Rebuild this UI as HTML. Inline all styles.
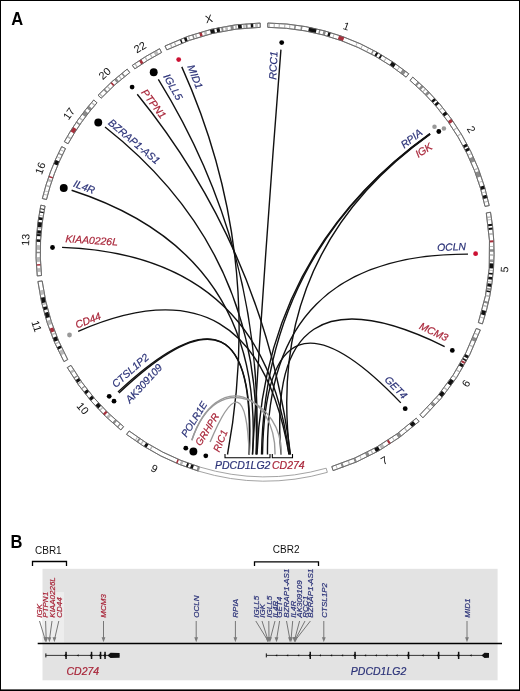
<!DOCTYPE html>
<html><head><meta charset="utf-8"><style>
html,body{margin:0;padding:0;background:#fff;}
svg{display:block;font-family:"Liberation Sans",sans-serif;will-change:transform;}
</style></head><body>
<svg width="520" height="691" viewBox="0 0 520 691">
<rect x="0" y="0" width="520" height="691" fill="#fff"/>
<path d="M267.80,23.02 A229.0,229.0 0 0 1 408.80,73.78 L406.10,77.13 A224.7,224.7 0 0 0 267.75,27.32 Z" fill="#fff" stroke="#666" stroke-width="0.8"/>
<path d="M268.67,23.03 A229.0,229.0 0 0 1 269.91,23.05 L269.82,27.35 A224.7,224.7 0 0 0 268.60,27.33 Z" fill="#b9b9b9"/>
<path d="M273.72,23.17 A229.0,229.0 0 0 1 274.94,23.22 L274.75,27.51 A224.7,224.7 0 0 0 273.56,27.46 Z" fill="#b9b9b9"/>
<path d="M278.78,23.41 A229.0,229.0 0 0 1 279.97,23.49 L279.69,27.78 A224.7,224.7 0 0 0 278.52,27.71 Z" fill="#b9b9b9"/>
<path d="M284.34,23.82 A229.0,229.0 0 0 1 285.51,23.92 L285.12,28.20 A224.7,224.7 0 0 0 283.98,28.10 Z" fill="#b9b9b9"/>
<path d="M289.40,24.30 A229.0,229.0 0 0 1 290.54,24.43 L290.06,28.70 A224.7,224.7 0 0 0 288.94,28.58 Z" fill="#b9b9b9"/>
<path d="M294.45,24.90 A229.0,229.0 0 0 1 296.08,25.12 L295.49,29.38 A224.7,224.7 0 0 0 293.90,29.17 Z" fill="#8a8a8a"/>
<path d="M301.03,25.85 A229.0,229.0 0 0 1 302.62,26.11 L301.91,30.35 A224.7,224.7 0 0 0 300.35,30.10 Z" fill="#8a8a8a"/>
<path d="M309.02,27.27 A229.0,229.0 0 0 1 316.71,28.92 L315.74,33.10 A224.7,224.7 0 0 0 308.20,31.49 Z" fill="#111"/>
<path d="M319.23,29.51 A229.0,229.0 0 0 1 320.63,29.86 L319.59,34.03 A224.7,224.7 0 0 0 318.21,33.69 Z" fill="#8a8a8a"/>
<path d="M323.58,30.62 A229.0,229.0 0 0 1 325.97,31.26 L324.82,35.41 A224.7,224.7 0 0 0 322.48,34.78 Z" fill="#8a8a8a"/>
<path d="M328.43,31.96 A229.0,229.0 0 0 1 330.80,32.66 L329.56,36.78 A224.7,224.7 0 0 0 327.24,36.09 Z" fill="#111"/>
<path d="M333.75,33.56 A229.0,229.0 0 0 1 334.66,33.85 L333.35,37.95 A224.7,224.7 0 0 0 332.46,37.67 Z" fill="#b9b9b9"/>
<path d="M339.15,35.34 A229.0,229.0 0 0 1 344.39,37.20 L342.90,41.23 A224.7,224.7 0 0 0 337.76,39.41 Z" fill="#a8303c"/>
<path d="M356.85,42.23 A229.0,229.0 0 0 1 357.76,42.63 L356.02,46.56 A224.7,224.7 0 0 0 355.13,46.17 Z" fill="#b9b9b9"/>
<path d="M362.15,44.63 A229.0,229.0 0 0 1 363.06,45.06 L361.22,48.94 A224.7,224.7 0 0 0 360.32,48.52 Z" fill="#b9b9b9"/>
<path d="M368.20,47.57 A229.0,229.0 0 0 1 369.11,48.03 L367.15,51.86 A224.7,224.7 0 0 0 366.26,51.41 Z" fill="#b9b9b9"/>
<path d="M372.82,49.97 A229.0,229.0 0 0 1 374.07,50.64 L372.02,54.43 A224.7,224.7 0 0 0 370.80,53.76 Z" fill="#8a8a8a"/>
<path d="M376.36,51.90 A229.0,229.0 0 0 1 378.30,52.99 L376.17,56.73 A224.7,224.7 0 0 0 374.27,55.66 Z" fill="#111"/>
<path d="M380.71,54.38 A229.0,229.0 0 0 1 382.33,55.34 L380.12,59.03 A224.7,224.7 0 0 0 378.54,58.09 Z" fill="#111"/>
<path d="M385.86,57.49 A229.0,229.0 0 0 1 386.76,58.05 L384.48,61.70 A224.7,224.7 0 0 0 383.59,61.14 Z" fill="#b9b9b9"/>
<path d="M392.04,61.47 A229.0,229.0 0 0 1 395.92,64.11 L393.46,67.64 A224.7,224.7 0 0 0 389.65,65.05 Z" fill="#111"/>
<path d="M399.22,66.46 A229.0,229.0 0 0 1 400.13,67.12 L397.59,70.59 A224.7,224.7 0 0 0 396.70,69.94 Z" fill="#b9b9b9"/>
<path d="M402.86,69.14 A229.0,229.0 0 0 1 406.08,71.62 L403.43,75.01 A224.7,224.7 0 0 0 400.27,72.58 Z" fill="#8a8a8a"/>
<path d="M267.80,23.02 A229.0,229.0 0 0 1 408.80,73.78 L406.10,77.13 A224.7,224.7 0 0 0 267.75,27.32 Z" fill="none" stroke="#666" stroke-width="0.8"/>
<path d="M412.81,77.09 A229.0,229.0 0 0 1 489.24,205.56 L485.03,206.43 A224.7,224.7 0 0 0 410.03,80.38 Z" fill="#fff" stroke="#666" stroke-width="0.8"/>
<path d="M417.91,81.53 A229.0,229.0 0 0 1 419.53,83.00 L416.63,86.17 A224.7,224.7 0 0 0 415.04,84.74 Z" fill="#8a8a8a"/>
<path d="M421.75,85.06 A229.0,229.0 0 0 1 423.63,86.84 L420.65,89.94 A224.7,224.7 0 0 0 418.81,88.19 Z" fill="#8a8a8a"/>
<path d="M425.21,88.37 A229.0,229.0 0 0 1 426.13,89.28 L423.10,92.33 A224.7,224.7 0 0 0 422.20,91.44 Z" fill="#b9b9b9"/>
<path d="M427.94,91.10 A229.0,229.0 0 0 1 429.91,93.11 L426.81,96.10 A224.7,224.7 0 0 0 424.88,94.12 Z" fill="#8a8a8a"/>
<path d="M434.43,97.94 A229.0,229.0 0 0 1 436.18,99.89 L432.97,102.74 A224.7,224.7 0 0 0 431.25,100.83 Z" fill="#111"/>
<path d="M437.57,101.46 A229.0,229.0 0 0 1 439.26,103.43 L435.99,106.22 A224.7,224.7 0 0 0 434.33,104.29 Z" fill="#111"/>
<path d="M442.27,107.03 A229.0,229.0 0 0 1 443.01,107.94 L439.67,110.65 A224.7,224.7 0 0 0 438.94,109.76 Z" fill="#b9b9b9"/>
<path d="M445.70,111.32 A229.0,229.0 0 0 1 447.70,113.94 L444.27,116.53 A224.7,224.7 0 0 0 442.30,113.97 Z" fill="#111"/>
<path d="M451.33,118.87 A229.0,229.0 0 0 1 453.13,121.43 L449.59,123.88 A224.7,224.7 0 0 0 447.83,121.37 Z" fill="#a8303c"/>
<path d="M457.01,127.21 A229.0,229.0 0 0 1 457.60,128.12 L453.98,130.44 A224.7,224.7 0 0 0 453.41,129.55 Z" fill="#b9b9b9"/>
<path d="M460.81,133.26 A229.0,229.0 0 0 1 461.36,134.17 L457.67,136.38 A224.7,224.7 0 0 0 457.14,135.49 Z" fill="#b9b9b9"/>
<path d="M466.68,143.53 A229.0,229.0 0 0 1 467.99,146.00 L464.18,147.99 A224.7,224.7 0 0 0 462.89,145.57 Z" fill="#111"/>
<path d="M468.74,147.45 A229.0,229.0 0 0 1 470.05,150.04 L466.20,151.96 A224.7,224.7 0 0 0 464.92,149.42 Z" fill="#111"/>
<path d="M471.46,152.93 A229.0,229.0 0 0 1 471.90,153.84 L468.01,155.69 A224.7,224.7 0 0 0 467.59,154.79 Z" fill="#b9b9b9"/>
<path d="M473.19,156.61 A229.0,229.0 0 0 1 475.21,161.16 L471.27,162.87 A224.7,224.7 0 0 0 469.28,158.40 Z" fill="#8a8a8a"/>
<path d="M477.95,167.79 A229.0,229.0 0 0 1 478.45,169.05 L474.44,170.61 A224.7,224.7 0 0 0 473.95,169.37 Z" fill="#b9b9b9"/>
<path d="M479.20,171.00 A229.0,229.0 0 0 1 481.14,176.33 L477.08,177.75 A224.7,224.7 0 0 0 475.17,172.52 Z" fill="#8a8a8a"/>
<path d="M482.61,180.67 A229.0,229.0 0 0 1 482.91,181.59 L478.82,182.92 A224.7,224.7 0 0 0 478.52,182.01 Z" fill="#b9b9b9"/>
<path d="M484.13,185.50 A229.0,229.0 0 0 1 485.13,188.87 L480.99,190.06 A224.7,224.7 0 0 0 480.02,186.75 Z" fill="#111"/>
<path d="M485.79,191.24 A229.0,229.0 0 0 1 486.06,192.21 L481.91,193.33 A224.7,224.7 0 0 0 481.65,192.38 Z" fill="#b9b9b9"/>
<path d="M486.70,194.65 A229.0,229.0 0 0 1 487.56,198.07 L483.38,199.09 A224.7,224.7 0 0 0 482.54,195.73 Z" fill="#111"/>
<path d="M488.20,200.80 A229.0,229.0 0 0 1 488.43,201.82 L484.24,202.76 A224.7,224.7 0 0 0 484.01,201.76 Z" fill="#b9b9b9"/>
<path d="M412.81,77.09 A229.0,229.0 0 0 1 489.24,205.56 L485.03,206.43 A224.7,224.7 0 0 0 410.03,80.38 Z" fill="none" stroke="#666" stroke-width="0.8"/>
<path d="M490.52,212.23 A229.0,229.0 0 0 1 482.42,323.90 L478.34,322.55 A224.7,224.7 0 0 0 486.29,212.98 Z" fill="#fff" stroke="#666" stroke-width="0.8"/>
<path d="M491.18,216.19 A229.0,229.0 0 0 1 491.38,217.49 L487.13,218.14 A224.7,224.7 0 0 0 486.94,216.87 Z" fill="#b9b9b9"/>
<path d="M491.60,218.91 A229.0,229.0 0 0 1 491.76,220.02 L487.50,220.62 A224.7,224.7 0 0 0 487.34,219.53 Z" fill="#b9b9b9"/>
<path d="M492.25,223.74 A229.0,229.0 0 0 1 492.49,225.78 L488.22,226.27 A224.7,224.7 0 0 0 487.98,224.27 Z" fill="#111"/>
<path d="M492.69,227.57 A229.0,229.0 0 0 1 492.90,229.62 L488.62,230.04 A224.7,224.7 0 0 0 488.42,228.03 Z" fill="#111"/>
<path d="M493.21,233.00 A229.0,229.0 0 0 1 493.34,234.68 L489.06,235.01 A224.7,224.7 0 0 0 488.93,233.36 Z" fill="#b9b9b9"/>
<path d="M493.70,240.35 A229.0,229.0 0 0 1 493.80,242.37 L489.50,242.55 A224.7,224.7 0 0 0 489.41,240.57 Z" fill="#a8303c"/>
<path d="M493.92,246.00 A229.0,229.0 0 0 1 493.94,246.91 L489.64,247.00 A224.7,224.7 0 0 0 489.62,246.11 Z" fill="#b9b9b9"/>
<path d="M493.98,249.30 A229.0,229.0 0 0 1 494.00,251.87 L489.70,251.87 A224.7,224.7 0 0 0 489.68,249.36 Z" fill="#8a8a8a"/>
<path d="M493.99,254.15 A229.0,229.0 0 0 1 493.97,255.90 L489.67,255.83 A224.7,224.7 0 0 0 489.69,254.11 Z" fill="#b9b9b9"/>
<path d="M493.89,259.11 A229.0,229.0 0 0 1 493.86,260.02 L489.56,259.87 A224.7,224.7 0 0 0 489.59,258.98 Z" fill="#b9b9b9"/>
<path d="M493.85,260.22 A229.0,229.0 0 0 1 493.78,261.94 L489.49,261.75 A224.7,224.7 0 0 0 489.56,260.06 Z" fill="#8a8a8a"/>
<path d="M493.71,263.56 A229.0,229.0 0 0 1 493.40,268.59 L489.11,268.28 A224.7,224.7 0 0 0 489.41,263.34 Z" fill="#111"/>
<path d="M493.27,270.21 A229.0,229.0 0 0 1 493.20,271.12 L488.92,270.76 A224.7,224.7 0 0 0 488.99,269.87 Z" fill="#b9b9b9"/>
<path d="M493.03,273.06 A229.0,229.0 0 0 1 492.87,274.72 L488.59,274.30 A224.7,224.7 0 0 0 488.75,272.66 Z" fill="#111"/>
<path d="M492.62,277.11 A229.0,229.0 0 0 1 492.30,279.86 L488.03,279.33 A224.7,224.7 0 0 0 488.35,276.63 Z" fill="#111"/>
<path d="M492.10,281.45 A229.0,229.0 0 0 1 491.95,282.57 L487.69,282.00 A224.7,224.7 0 0 0 487.83,280.90 Z" fill="#b9b9b9"/>
<path d="M491.78,283.78 A229.0,229.0 0 0 1 491.32,286.90 L487.07,286.25 A224.7,224.7 0 0 0 487.53,283.18 Z" fill="#111"/>
<path d="M491.07,288.53 A229.0,229.0 0 0 1 490.80,290.12 L486.56,289.40 A224.7,224.7 0 0 0 486.82,287.85 Z" fill="#8a8a8a"/>
<path d="M490.66,290.96 A229.0,229.0 0 0 1 490.38,292.54 L486.15,291.77 A224.7,224.7 0 0 0 486.42,290.23 Z" fill="#111"/>
<path d="M489.81,295.61 A229.0,229.0 0 0 1 489.50,297.17 L485.29,296.32 A224.7,224.7 0 0 0 485.59,294.79 Z" fill="#b9b9b9"/>
<path d="M488.55,301.68 A229.0,229.0 0 0 1 488.06,303.81 L483.87,302.84 A224.7,224.7 0 0 0 484.35,300.75 Z" fill="#8a8a8a"/>
<path d="M487.61,305.72 A229.0,229.0 0 0 1 487.24,307.23 L483.07,306.19 A224.7,224.7 0 0 0 483.43,304.71 Z" fill="#b9b9b9"/>
<path d="M486.27,310.98 A229.0,229.0 0 0 1 485.02,315.49 L480.89,314.29 A224.7,224.7 0 0 0 482.12,309.88 Z" fill="#111"/>
<path d="M484.33,317.86 A229.0,229.0 0 0 1 484.04,318.80 L479.93,317.55 A224.7,224.7 0 0 0 480.21,316.62 Z" fill="#b9b9b9"/>
<path d="M490.52,212.23 A229.0,229.0 0 0 1 482.42,323.90 L478.34,322.55 A224.7,224.7 0 0 0 486.29,212.98 Z" fill="none" stroke="#666" stroke-width="0.8"/>
<path d="M480.33,329.95 A229.0,229.0 0 0 1 422.92,417.84 L419.96,414.72 A224.7,224.7 0 0 0 476.28,328.48 Z" fill="#fff" stroke="#666" stroke-width="0.8"/>
<path d="M478.69,334.34 A229.0,229.0 0 0 1 478.27,335.41 L474.27,333.84 A224.7,224.7 0 0 0 474.67,332.79 Z" fill="#b9b9b9"/>
<path d="M477.04,338.49 A229.0,229.0 0 0 1 475.59,341.95 L471.64,340.26 A224.7,224.7 0 0 0 473.06,336.86 Z" fill="#8a8a8a"/>
<path d="M473.74,346.17 A229.0,229.0 0 0 1 473.14,347.49 L469.23,345.69 A224.7,224.7 0 0 0 469.82,344.40 Z" fill="#b9b9b9"/>
<path d="M469.08,355.88 A229.0,229.0 0 0 1 467.70,358.56 L463.89,356.56 A224.7,224.7 0 0 0 465.25,353.93 Z" fill="#111"/>
<path d="M466.92,360.02 A229.0,229.0 0 0 1 466.19,361.38 L462.41,359.32 A224.7,224.7 0 0 0 463.13,358.00 Z" fill="#111"/>
<path d="M465.66,362.35 A229.0,229.0 0 0 1 464.69,364.09 L460.94,361.99 A224.7,224.7 0 0 0 461.89,360.28 Z" fill="#a8303c"/>
<path d="M464.25,364.88 A229.0,229.0 0 0 1 462.67,367.62 L458.96,365.45 A224.7,224.7 0 0 0 460.51,362.76 Z" fill="#111"/>
<path d="M460.38,371.45 A229.0,229.0 0 0 1 459.64,372.65 L455.99,370.38 A224.7,224.7 0 0 0 456.71,369.21 Z" fill="#b9b9b9"/>
<path d="M456.62,377.40 A229.0,229.0 0 0 1 456.02,378.30 L452.43,375.93 A224.7,224.7 0 0 0 453.02,375.04 Z" fill="#b9b9b9"/>
<path d="M454.17,381.06 A229.0,229.0 0 0 1 450.89,385.73 L447.40,383.22 A224.7,224.7 0 0 0 450.62,378.64 Z" fill="#111"/>
<path d="M448.01,389.65 A229.0,229.0 0 0 1 447.17,390.76 L443.75,388.16 A224.7,224.7 0 0 0 444.57,387.07 Z" fill="#b9b9b9"/>
<path d="M445.13,393.40 A229.0,229.0 0 0 1 441.99,397.31 L438.67,394.58 A224.7,224.7 0 0 0 441.75,390.74 Z" fill="#111"/>
<path d="M439.95,399.76 A229.0,229.0 0 0 1 439.04,400.83 L435.78,398.03 A224.7,224.7 0 0 0 436.66,396.99 Z" fill="#b9b9b9"/>
<path d="M435.82,404.52 A229.0,229.0 0 0 1 433.51,407.07 L430.34,404.16 A224.7,224.7 0 0 0 432.61,401.65 Z" fill="#8a8a8a"/>
<path d="M430.88,409.88 A229.0,229.0 0 0 1 429.91,410.89 L426.81,407.91 A224.7,224.7 0 0 0 427.77,406.91 Z" fill="#b9b9b9"/>
<path d="M480.33,329.95 A229.0,229.0 0 0 1 422.92,417.84 L419.96,414.72 A224.7,224.7 0 0 0 476.28,328.48 Z" fill="none" stroke="#666" stroke-width="0.8"/>
<path d="M419.12,421.38 A229.0,229.0 0 0 1 333.10,470.64 L331.82,466.53 A224.7,224.7 0 0 0 416.23,418.20 Z" fill="#fff" stroke="#666" stroke-width="0.8"/>
<path d="M415.84,424.30 A229.0,229.0 0 0 1 412.26,427.37 L409.50,424.08 A224.7,224.7 0 0 0 413.01,421.07 Z" fill="#111"/>
<path d="M407.79,431.03 A229.0,229.0 0 0 1 406.70,431.90 L404.04,428.52 A224.7,224.7 0 0 0 405.11,427.67 Z" fill="#b9b9b9"/>
<path d="M401.75,435.68 A229.0,229.0 0 0 1 398.61,437.98 L396.10,434.49 A224.7,224.7 0 0 0 399.18,432.24 Z" fill="#8a8a8a"/>
<path d="M395.09,440.46 A229.0,229.0 0 0 1 394.18,441.09 L391.75,437.54 A224.7,224.7 0 0 0 392.64,436.92 Z" fill="#b9b9b9"/>
<path d="M390.98,443.23 A229.0,229.0 0 0 1 389.10,444.46 L386.77,440.84 A224.7,224.7 0 0 0 388.62,439.64 Z" fill="#a8303c"/>
<path d="M384.64,447.26 A229.0,229.0 0 0 1 381.42,449.20 L379.23,445.50 A224.7,224.7 0 0 0 382.40,443.59 Z" fill="#b9b9b9"/>
<path d="M380.01,450.02 A229.0,229.0 0 0 1 376.16,452.21 L374.07,448.45 A224.7,224.7 0 0 0 377.85,446.30 Z" fill="#111"/>
<path d="M373.57,453.63 A229.0,229.0 0 0 1 372.32,454.30 L370.30,450.50 A224.7,224.7 0 0 0 371.53,449.84 Z" fill="#b9b9b9"/>
<path d="M369.85,455.59 A229.0,229.0 0 0 1 366.86,457.10 L364.94,453.25 A224.7,224.7 0 0 0 367.88,451.76 Z" fill="#8a8a8a"/>
<path d="M362.05,459.42 A229.0,229.0 0 0 1 361.14,459.84 L359.33,455.94 A224.7,224.7 0 0 0 360.23,455.52 Z" fill="#b9b9b9"/>
<path d="M356.96,461.72 A229.0,229.0 0 0 1 354.92,462.61 L353.24,458.65 A224.7,224.7 0 0 0 355.24,457.78 Z" fill="#8a8a8a"/>
<path d="M350.42,464.47 A229.0,229.0 0 0 1 349.06,465.01 L347.48,461.01 A224.7,224.7 0 0 0 348.82,460.48 Z" fill="#b9b9b9"/>
<path d="M344.08,466.91 A229.0,229.0 0 0 1 341.98,467.67 L340.53,463.62 A224.7,224.7 0 0 0 342.60,462.88 Z" fill="#8a8a8a"/>
<path d="M337.84,469.11 A229.0,229.0 0 0 1 336.92,469.41 L335.57,465.33 A224.7,224.7 0 0 0 336.47,465.03 Z" fill="#b9b9b9"/>
<path d="M419.12,421.38 A229.0,229.0 0 0 1 333.10,470.64 L331.82,466.53 A224.7,224.7 0 0 0 416.23,418.20 Z" fill="none" stroke="#666" stroke-width="0.8"/>
<path d="M198.43,471.11 A229.0,229.0 0 0 1 126.55,434.41 L129.15,430.98 A224.7,224.7 0 0 0 199.68,467.00 Z" fill="#fff" stroke="#666" stroke-width="0.8"/>
<path d="M198.13,471.02 A229.0,229.0 0 0 1 196.49,470.51 L197.77,466.41 A224.7,224.7 0 0 0 199.39,466.91 Z" fill="#8a8a8a"/>
<path d="M192.57,469.24 A229.0,229.0 0 0 1 189.94,468.35 L191.35,464.29 A224.7,224.7 0 0 0 193.93,465.16 Z" fill="#111"/>
<path d="M187.62,467.53 A229.0,229.0 0 0 1 185.82,466.87 L187.30,462.84 A224.7,224.7 0 0 0 189.07,463.48 Z" fill="#111"/>
<path d="M181.95,465.41 A229.0,229.0 0 0 1 179.58,464.47 L181.18,460.48 A224.7,224.7 0 0 0 183.51,461.40 Z" fill="#b9b9b9"/>
<path d="M177.40,463.58 A229.0,229.0 0 0 1 175.95,462.98 L177.63,459.02 A224.7,224.7 0 0 0 179.05,459.61 Z" fill="#a8303c"/>
<path d="M150.61,450.38 A229.0,229.0 0 0 1 149.39,449.67 L151.56,445.96 A224.7,224.7 0 0 0 152.75,446.66 Z" fill="#b9b9b9"/>
<path d="M146.36,447.87 A229.0,229.0 0 0 1 143.85,446.33 L146.12,442.68 A224.7,224.7 0 0 0 148.59,444.19 Z" fill="#111"/>
<path d="M141.51,444.85 A229.0,229.0 0 0 1 140.33,444.09 L142.67,440.48 A224.7,224.7 0 0 0 143.82,441.23 Z" fill="#b9b9b9"/>
<path d="M138.07,442.60 A229.0,229.0 0 0 1 136.50,441.55 L138.92,437.99 A224.7,224.7 0 0 0 140.45,439.02 Z" fill="#8a8a8a"/>
<path d="M135.57,440.91 A229.0,229.0 0 0 1 134.66,440.29 L137.11,436.75 A224.7,224.7 0 0 0 138.00,437.37 Z" fill="#b9b9b9"/>
<path d="M198.43,471.11 A229.0,229.0 0 0 1 126.55,434.41 L129.15,430.98 A224.7,224.7 0 0 0 199.68,467.00 Z" fill="none" stroke="#666" stroke-width="0.8"/>
<path d="M120.89,429.97 A229.0,229.0 0 0 1 67.28,367.54 L71.00,365.37 A224.7,224.7 0 0 0 123.59,426.62 Z" fill="#fff" stroke="#666" stroke-width="0.8"/>
<path d="M118.01,427.60 A229.0,229.0 0 0 1 116.90,426.66 L119.68,423.38 A224.7,224.7 0 0 0 120.77,424.30 Z" fill="#8a8a8a"/>
<path d="M114.13,424.28 A229.0,229.0 0 0 1 112.26,422.62 L115.12,419.41 A224.7,224.7 0 0 0 116.96,421.04 Z" fill="#8a8a8a"/>
<path d="M108.25,418.94 A229.0,229.0 0 0 1 106.16,416.96 L109.14,413.86 A224.7,224.7 0 0 0 111.19,415.81 Z" fill="#b9b9b9"/>
<path d="M104.58,415.42 A229.0,229.0 0 0 1 102.86,413.72 L105.91,410.68 A224.7,224.7 0 0 0 107.59,412.35 Z" fill="#a8303c"/>
<path d="M100.09,410.89 A229.0,229.0 0 0 1 99.12,409.88 L102.23,406.91 A224.7,224.7 0 0 0 103.19,407.91 Z" fill="#b9b9b9"/>
<path d="M97.99,408.68 A229.0,229.0 0 0 1 95.09,405.53 L98.28,402.65 A224.7,224.7 0 0 0 101.13,405.74 Z" fill="#111"/>
<path d="M90.96,400.83 A229.0,229.0 0 0 1 88.78,398.25 L92.09,395.50 A224.7,224.7 0 0 0 94.22,398.03 Z" fill="#111"/>
<path d="M85.65,394.39 A229.0,229.0 0 0 1 83.76,391.98 L87.17,389.35 A224.7,224.7 0 0 0 89.02,391.71 Z" fill="#111"/>
<path d="M81.69,389.25 A229.0,229.0 0 0 1 81.01,388.34 L84.47,385.78 A224.7,224.7 0 0 0 85.13,386.67 Z" fill="#8a8a8a"/>
<path d="M78.38,384.72 A229.0,229.0 0 0 1 77.58,383.58 L81.10,381.11 A224.7,224.7 0 0 0 81.89,382.23 Z" fill="#b9b9b9"/>
<path d="M77.11,382.91 A229.0,229.0 0 0 1 75.35,380.35 L78.91,377.94 A224.7,224.7 0 0 0 80.64,380.46 Z" fill="#111"/>
<path d="M74.23,378.69 A229.0,229.0 0 0 1 73.46,377.52 L77.06,375.16 A224.7,224.7 0 0 0 77.82,376.31 Z" fill="#8a8a8a"/>
<path d="M70.99,373.65 A229.0,229.0 0 0 1 69.62,371.45 L73.29,369.21 A224.7,224.7 0 0 0 74.63,371.37 Z" fill="#b9b9b9"/>
<path d="M120.89,429.97 A229.0,229.0 0 0 1 67.28,367.54 L71.00,365.37 A224.7,224.7 0 0 0 123.59,426.62 Z" fill="none" stroke="#666" stroke-width="0.8"/>
<path d="M63.94,361.62 A229.0,229.0 0 0 1 37.91,281.49 L42.17,280.94 A224.7,224.7 0 0 0 67.72,359.56 Z" fill="#fff" stroke="#666" stroke-width="0.8"/>
<path d="M60.74,355.54 A229.0,229.0 0 0 1 58.62,351.23 L62.49,349.37 A224.7,224.7 0 0 0 64.58,353.60 Z" fill="#b9b9b9"/>
<path d="M57.89,349.70 A229.0,229.0 0 0 1 56.72,347.18 L60.63,345.40 A224.7,224.7 0 0 0 61.78,347.87 Z" fill="#111"/>
<path d="M55.50,344.47 A229.0,229.0 0 0 1 54.92,343.14 L58.86,341.43 A224.7,224.7 0 0 0 59.43,342.73 Z" fill="#b9b9b9"/>
<path d="M54.36,341.85 A229.0,229.0 0 0 1 52.71,337.88 L56.70,336.27 A224.7,224.7 0 0 0 58.32,340.17 Z" fill="#111"/>
<path d="M51.73,335.41 A229.0,229.0 0 0 1 51.20,334.04 L55.21,332.50 A224.7,224.7 0 0 0 55.74,333.84 Z" fill="#b9b9b9"/>
<path d="M50.69,332.70 A229.0,229.0 0 0 1 49.22,328.68 L53.27,327.24 A224.7,224.7 0 0 0 54.71,331.18 Z" fill="#a8303c"/>
<path d="M48.06,325.35 A229.0,229.0 0 0 1 46.61,320.89 L50.71,319.60 A224.7,224.7 0 0 0 52.14,323.97 Z" fill="#b9b9b9"/>
<path d="M45.81,318.30 A229.0,229.0 0 0 1 44.25,312.91 L48.39,311.76 A224.7,224.7 0 0 0 49.92,317.06 Z" fill="#111"/>
<path d="M43.53,310.25 A229.0,229.0 0 0 1 42.76,307.24 L46.94,306.20 A224.7,224.7 0 0 0 47.69,309.16 Z" fill="#111"/>
<path d="M42.27,305.22 A229.0,229.0 0 0 1 41.91,303.70 L46.10,302.73 A224.7,224.7 0 0 0 46.45,304.22 Z" fill="#b9b9b9"/>
<path d="M41.80,303.21 A229.0,229.0 0 0 1 40.61,297.74 L44.83,296.88 A224.7,224.7 0 0 0 45.99,302.25 Z" fill="#111"/>
<path d="M40.10,295.16 A229.0,229.0 0 0 1 39.27,290.56 L43.51,289.83 A224.7,224.7 0 0 0 44.33,294.35 Z" fill="#b9b9b9"/>
<path d="M63.94,361.62 A229.0,229.0 0 0 1 37.91,281.49 L42.17,280.94 A224.7,224.7 0 0 0 67.72,359.56 Z" fill="none" stroke="#666" stroke-width="0.8"/>
<path d="M37.25,275.94 A229.0,229.0 0 0 1 40.84,205.17 L45.05,206.05 A224.7,224.7 0 0 0 41.53,275.49 Z" fill="#fff" stroke="#666" stroke-width="0.8"/>
<path d="M36.88,272.01 A229.0,229.0 0 0 1 36.58,268.31 L40.87,268.00 A224.7,224.7 0 0 0 41.16,271.63 Z" fill="#b9b9b9"/>
<path d="M36.41,265.76 A229.0,229.0 0 0 1 36.33,264.26 L40.62,264.03 A224.7,224.7 0 0 0 40.71,265.51 Z" fill="#a8303c"/>
<path d="M36.22,261.94 A229.0,229.0 0 0 1 36.06,257.19 L40.36,257.09 A224.7,224.7 0 0 0 40.51,261.76 Z" fill="#b9b9b9"/>
<path d="M36.00,253.29 A229.0,229.0 0 0 1 36.00,251.72 L40.30,251.73 A224.7,224.7 0 0 0 40.30,253.26 Z" fill="#8a8a8a"/>
<path d="M36.01,249.85 A229.0,229.0 0 0 1 36.10,245.08 L40.40,245.21 A224.7,224.7 0 0 0 40.31,249.89 Z" fill="#b9b9b9"/>
<path d="M36.22,241.86 A229.0,229.0 0 0 1 36.36,239.14 L40.65,239.38 A224.7,224.7 0 0 0 40.52,242.05 Z" fill="#111"/>
<path d="M36.57,235.89 A229.0,229.0 0 0 1 36.71,234.01 L40.99,234.35 A224.7,224.7 0 0 0 40.86,236.20 Z" fill="#111"/>
<path d="M36.75,233.47 A229.0,229.0 0 0 1 37.04,230.18 L41.32,230.59 A224.7,224.7 0 0 0 41.04,233.81 Z" fill="#111"/>
<path d="M37.20,228.61 A229.0,229.0 0 0 1 37.37,226.96 L41.65,227.43 A224.7,224.7 0 0 0 41.47,229.05 Z" fill="#b9b9b9"/>
<path d="M37.38,226.89 A229.0,229.0 0 0 1 37.98,221.93 L42.25,222.49 A224.7,224.7 0 0 0 41.65,227.36 Z" fill="#111"/>
<path d="M38.29,219.71 A229.0,229.0 0 0 1 38.68,217.10 L42.92,217.75 A224.7,224.7 0 0 0 42.54,220.32 Z" fill="#111"/>
<path d="M38.91,215.63 A229.0,229.0 0 0 1 39.05,214.72 L43.30,215.42 A224.7,224.7 0 0 0 43.15,216.32 Z" fill="#b9b9b9"/>
<path d="M39.44,212.44 A229.0,229.0 0 0 1 39.67,211.16 L43.90,211.93 A224.7,224.7 0 0 0 43.68,213.18 Z" fill="#111"/>
<path d="M40.05,209.10 A229.0,229.0 0 0 1 40.24,208.14 L44.46,208.97 A224.7,224.7 0 0 0 44.28,209.90 Z" fill="#111"/>
<path d="M37.25,275.94 A229.0,229.0 0 0 1 40.84,205.17 L45.05,206.05 A224.7,224.7 0 0 0 41.53,275.49 Z" fill="none" stroke="#666" stroke-width="0.8"/>
<path d="M42.33,198.54 A229.0,229.0 0 0 1 61.69,146.61 L65.51,148.59 A224.7,224.7 0 0 0 46.51,199.54 Z" fill="#fff" stroke="#666" stroke-width="0.8"/>
<path d="M43.27,194.74 A229.0,229.0 0 0 1 43.53,193.75 L47.69,194.85 A224.7,224.7 0 0 0 47.44,195.81 Z" fill="#b9b9b9"/>
<path d="M44.22,191.20 A229.0,229.0 0 0 1 44.49,190.23 L48.63,191.39 A224.7,224.7 0 0 0 48.36,192.34 Z" fill="#b9b9b9"/>
<path d="M45.67,186.14 A229.0,229.0 0 0 1 46.11,184.69 L50.22,185.96 A224.7,224.7 0 0 0 49.79,187.38 Z" fill="#b9b9b9"/>
<path d="M47.26,181.09 A229.0,229.0 0 0 1 48.06,178.65 L52.14,180.03 A224.7,224.7 0 0 0 51.35,182.42 Z" fill="#b9b9b9"/>
<path d="M48.58,177.14 A229.0,229.0 0 0 1 49.04,175.84 L53.09,177.27 A224.7,224.7 0 0 0 52.64,178.55 Z" fill="#a8303c"/>
<path d="M53.63,163.89 A229.0,229.0 0 0 1 55.41,159.73 L59.35,161.46 A224.7,224.7 0 0 0 57.60,165.55 Z" fill="#111"/>
<path d="M56.58,157.12 A229.0,229.0 0 0 1 57.00,156.21 L60.90,158.01 A224.7,224.7 0 0 0 60.49,158.90 Z" fill="#b9b9b9"/>
<path d="M58.13,153.79 A229.0,229.0 0 0 1 58.65,152.69 L62.53,154.55 A224.7,224.7 0 0 0 62.02,155.63 Z" fill="#8a8a8a"/>
<path d="M59.94,150.06 A229.0,229.0 0 0 1 60.39,149.15 L64.24,151.08 A224.7,224.7 0 0 0 63.79,151.97 Z" fill="#b9b9b9"/>
<path d="M42.33,198.54 A229.0,229.0 0 0 1 61.69,146.61 L65.51,148.59 A224.7,224.7 0 0 0 46.51,199.54 Z" fill="none" stroke="#666" stroke-width="0.8"/>
<path d="M64.33,141.68 A229.0,229.0 0 0 1 93.75,99.96 L96.97,102.82 A224.7,224.7 0 0 0 68.09,143.75 Z" fill="#fff" stroke="#666" stroke-width="0.8"/>
<path d="M66.82,137.26 A229.0,229.0 0 0 1 67.73,135.71 L71.43,137.89 A224.7,224.7 0 0 0 70.54,139.41 Z" fill="#b9b9b9"/>
<path d="M70.38,131.32 A229.0,229.0 0 0 1 73.15,126.97 L76.75,129.32 A224.7,224.7 0 0 0 74.03,133.59 Z" fill="#a8303c"/>
<path d="M75.90,122.84 A229.0,229.0 0 0 1 76.81,121.52 L80.34,123.97 A224.7,224.7 0 0 0 79.45,125.27 Z" fill="#8a8a8a"/>
<path d="M78.92,118.52 A229.0,229.0 0 0 1 79.83,117.26 L83.31,119.79 A224.7,224.7 0 0 0 82.42,121.03 Z" fill="#b9b9b9"/>
<path d="M81.95,114.40 A229.0,229.0 0 0 1 84.88,110.59 L88.26,113.25 A224.7,224.7 0 0 0 85.39,116.98 Z" fill="#8a8a8a"/>
<path d="M86.68,108.32 A229.0,229.0 0 0 1 88.72,105.83 L92.03,108.57 A224.7,224.7 0 0 0 90.03,111.02 Z" fill="#8a8a8a"/>
<path d="M91.01,103.11 A229.0,229.0 0 0 1 91.96,102.01 L95.21,104.83 A224.7,224.7 0 0 0 94.28,105.90 Z" fill="#b9b9b9"/>
<path d="M64.33,141.68 A229.0,229.0 0 0 1 93.75,99.96 L96.97,102.82 A224.7,224.7 0 0 0 68.09,143.75 Z" fill="none" stroke="#666" stroke-width="0.8"/>
<path d="M98.07,95.24 A229.0,229.0 0 0 1 127.18,69.11 L129.77,72.55 A224.7,224.7 0 0 0 101.20,98.18 Z" fill="#fff" stroke="#666" stroke-width="0.8"/>
<path d="M99.06,94.18 A229.0,229.0 0 0 1 100.05,93.16 L103.14,96.14 A224.7,224.7 0 0 0 102.18,97.15 Z" fill="#b9b9b9"/>
<path d="M103.29,89.85 A229.0,229.0 0 0 1 104.60,88.56 L107.61,91.63 A224.7,224.7 0 0 0 106.33,92.90 Z" fill="#8a8a8a"/>
<path d="M106.67,86.56 A229.0,229.0 0 0 1 107.58,85.69 L110.53,88.81 A224.7,224.7 0 0 0 109.64,89.66 Z" fill="#b9b9b9"/>
<path d="M110.34,83.12 A229.0,229.0 0 0 1 111.67,81.91 L114.55,85.10 A224.7,224.7 0 0 0 113.24,86.29 Z" fill="#a8303c"/>
<path d="M114.16,79.70 A229.0,229.0 0 0 1 116.22,77.91 L119.02,81.18 A224.7,224.7 0 0 0 116.99,82.93 Z" fill="#8a8a8a"/>
<path d="M118.19,76.25 A229.0,229.0 0 0 1 119.26,75.36 L122.00,78.68 A224.7,224.7 0 0 0 120.94,79.55 Z" fill="#b9b9b9"/>
<path d="M121.21,73.78 A229.0,229.0 0 0 1 122.49,72.74 L125.17,76.11 A224.7,224.7 0 0 0 123.91,77.12 Z" fill="#8a8a8a"/>
<path d="M98.07,95.24 A229.0,229.0 0 0 1 127.18,69.11 L129.77,72.55 A224.7,224.7 0 0 0 101.20,98.18 Z" fill="none" stroke="#666" stroke-width="0.8"/>
<path d="M132.34,65.34 A229.0,229.0 0 0 1 159.61,48.69 L161.59,52.51 A224.7,224.7 0 0 0 134.84,68.84 Z" fill="#fff" stroke="#666" stroke-width="0.8"/>
<path d="M134.29,63.97 A229.0,229.0 0 0 1 135.44,63.18 L137.87,66.72 A224.7,224.7 0 0 0 136.74,67.50 Z" fill="#b9b9b9"/>
<path d="M138.92,60.83 A229.0,229.0 0 0 1 141.20,59.35 L143.53,62.97 A224.7,224.7 0 0 0 141.28,64.42 Z" fill="#a8303c"/>
<path d="M144.35,57.36 A229.0,229.0 0 0 1 145.55,56.62 L147.79,60.29 A224.7,224.7 0 0 0 146.62,61.01 Z" fill="#b9b9b9"/>
<path d="M149.39,54.33 A229.0,229.0 0 0 1 150.61,53.62 L152.75,57.34 A224.7,224.7 0 0 0 151.56,58.04 Z" fill="#b9b9b9"/>
<path d="M153.41,52.03 A229.0,229.0 0 0 1 156.67,50.24 L158.70,54.03 A224.7,224.7 0 0 0 155.50,55.78 Z" fill="#b9b9b9"/>
<path d="M132.34,65.34 A229.0,229.0 0 0 1 159.61,48.69 L161.59,52.51 A224.7,224.7 0 0 0 134.84,68.84 Z" fill="none" stroke="#666" stroke-width="0.8"/>
<path d="M164.97,46.00 A229.0,229.0 0 0 1 260.20,23.05 L260.29,27.35 A224.7,224.7 0 0 0 166.85,49.87 Z" fill="#fff" stroke="#666" stroke-width="0.8"/>
<path d="M169.51,43.86 A229.0,229.0 0 0 1 170.83,43.26 L172.60,47.18 A224.7,224.7 0 0 0 171.31,47.77 Z" fill="#b9b9b9"/>
<path d="M173.54,42.06 A229.0,229.0 0 0 1 174.87,41.48 L176.57,45.43 A224.7,224.7 0 0 0 175.26,46.00 Z" fill="#b9b9b9"/>
<path d="M179.78,39.45 A229.0,229.0 0 0 1 181.14,38.91 L182.72,42.91 A224.7,224.7 0 0 0 181.38,43.44 Z" fill="#111"/>
<path d="M183.80,37.88 A229.0,229.0 0 0 1 186.30,36.95 L187.78,40.99 A224.7,224.7 0 0 0 185.33,41.90 Z" fill="#111"/>
<path d="M187.63,36.47 A229.0,229.0 0 0 1 189.03,35.97 L190.46,40.02 A224.7,224.7 0 0 0 189.08,40.51 Z" fill="#b9b9b9"/>
<path d="M191.96,34.96 A229.0,229.0 0 0 1 193.38,34.49 L194.72,38.57 A224.7,224.7 0 0 0 193.33,39.04 Z" fill="#8a8a8a"/>
<path d="M194.67,34.07 A229.0,229.0 0 0 1 196.11,33.61 L197.40,37.71 A224.7,224.7 0 0 0 195.99,38.16 Z" fill="#b9b9b9"/>
<path d="M199.10,32.69 A229.0,229.0 0 0 1 201.57,31.96 L202.76,36.09 A224.7,224.7 0 0 0 200.34,36.80 Z" fill="#a8303c"/>
<path d="M203.73,31.35 A229.0,229.0 0 0 1 206.22,30.67 L207.32,34.83 A224.7,224.7 0 0 0 204.88,35.49 Z" fill="#b9b9b9"/>
<path d="M209.97,29.71 A229.0,229.0 0 0 1 214.11,28.73 L215.06,32.92 A224.7,224.7 0 0 0 211.00,33.88 Z" fill="#111"/>
<path d="M216.31,28.24 A229.0,229.0 0 0 1 219.37,27.59 L220.22,31.81 A224.7,224.7 0 0 0 217.22,32.44 Z" fill="#111"/>
<path d="M220.94,27.28 A229.0,229.0 0 0 1 222.91,26.90 L223.70,31.13 A224.7,224.7 0 0 0 221.77,31.50 Z" fill="#8a8a8a"/>
<path d="M224.87,26.54 A229.0,229.0 0 0 1 227.46,26.10 L228.16,30.34 A224.7,224.7 0 0 0 225.62,30.78 Z" fill="#b9b9b9"/>
<path d="M230.30,25.64 A229.0,229.0 0 0 1 233.32,25.20 L233.92,29.46 A224.7,224.7 0 0 0 230.95,29.89 Z" fill="#8a8a8a"/>
<path d="M234.93,24.98 A229.0,229.0 0 0 1 236.56,24.77 L237.09,29.04 A224.7,224.7 0 0 0 235.50,29.25 Z" fill="#b9b9b9"/>
<path d="M237.85,24.62 A229.0,229.0 0 0 1 241.51,24.21 L241.95,28.49 A224.7,224.7 0 0 0 238.36,28.89 Z" fill="#111"/>
<path d="M242.98,24.06 A229.0,229.0 0 0 1 244.65,23.91 L245.03,28.19 A224.7,224.7 0 0 0 243.40,28.34 Z" fill="#b9b9b9"/>
<path d="M245.40,23.84 A229.0,229.0 0 0 1 247.38,23.68 L247.71,27.97 A224.7,224.7 0 0 0 245.77,28.12 Z" fill="#8a8a8a"/>
<path d="M250.63,23.45 A229.0,229.0 0 0 1 253.14,23.31 L253.36,27.60 A224.7,224.7 0 0 0 250.90,27.74 Z" fill="#111"/>
<path d="M255.06,23.22 A229.0,229.0 0 0 1 257.79,23.11 L257.93,27.41 A224.7,224.7 0 0 0 255.24,27.51 Z" fill="#b9b9b9"/>
<path d="M164.97,46.00 A229.0,229.0 0 0 1 260.20,23.05 L260.29,27.35 A224.7,224.7 0 0 0 166.85,49.87 Z" fill="none" stroke="#666" stroke-width="0.8"/>
<path d="M327.35,472.35 A229.0,229.0 0 0 1 198.43,471.11 L199.68,467.00 A224.7,224.7 0 0 0 326.18,468.21 Z" fill="#fff" stroke="#999" stroke-width="0.9"/>
<text x="346.30" y="26.19" transform="rotate(19.80 346.30 26.19)" text-anchor="middle" dy="0.36em" font-size="10.8" fill="#111">1</text>
<text x="471.26" y="129.29" transform="rotate(59.25 471.26 129.29)" text-anchor="middle" dy="0.36em" font-size="10.8" fill="#111">2</text>
<text x="504.37" y="269.37" transform="rotate(-85.85 504.37 269.37)" text-anchor="middle" dy="0.36em" font-size="10.8" fill="#111">5</text>
<text x="465.94" y="383.24" transform="rotate(-56.85 465.94 383.24)" text-anchor="middle" dy="0.36em" font-size="10.8" fill="#111">6</text>
<text x="384.27" y="460.26" transform="rotate(-29.80 384.27 460.26)" text-anchor="middle" dy="0.36em" font-size="10.8" fill="#111">7</text>
<text x="154.49" y="468.42" transform="rotate(27.05 154.49 468.42)" text-anchor="middle" dy="0.36em" font-size="10.8" fill="#111">9</text>
<text x="82.91" y="408.34" transform="rotate(49.35 82.91 408.34)" text-anchor="middle" dy="0.36em" font-size="10.8" fill="#111">10</text>
<text x="36.75" y="326.16" transform="rotate(72.00 36.75 326.16)" text-anchor="middle" dy="0.36em" font-size="10.8" fill="#111">11</text>
<text x="25.31" y="239.86" transform="rotate(272.90 25.31 239.86)" text-anchor="middle" dy="0.36em" font-size="10.8" fill="#111">13</text>
<text x="40.13" y="168.15" transform="rotate(290.45 40.13 168.15)" text-anchor="middle" dy="0.36em" font-size="10.8" fill="#111">16</text>
<text x="68.89" y="113.66" transform="rotate(305.20 68.89 113.66)" text-anchor="middle" dy="0.36em" font-size="10.8" fill="#111">17</text>
<text x="104.72" y="73.37" transform="rotate(318.10 104.72 73.37)" text-anchor="middle" dy="0.36em" font-size="10.8" fill="#111">20</text>
<text x="139.96" y="47.15" transform="rotate(328.60 139.96 47.15)" text-anchor="middle" dy="0.36em" font-size="10.8" fill="#111">22</text>
<text x="208.77" y="18.68" transform="rotate(346.45 208.77 18.68)" text-anchor="middle" dy="0.36em" font-size="10.8" fill="#111">X</text>
<path d="M280.93,49.63 Q265,252 252.50,454.5" fill="none" stroke="#111" stroke-width="1.4"/>
<path d="M429.85,133.54 Q265,252 257.00,454.5" fill="none" stroke="#111" stroke-width="1.4"/>
<path d="M430.06,133.83 Q265,252 261.50,454.5" fill="none" stroke="#111" stroke-width="1.4"/>
<path d="M430.27,134.12 Q265,252 290.00,454.5" fill="none" stroke="#111" stroke-width="1.4"/>
<path d="M467.99,254.13 Q265,254 267.50,454.5" fill="none" stroke="#111" stroke-width="1.4"/>
<path d="M444.65,346.52 Q265,258 281.00,454.5" fill="none" stroke="#111" stroke-width="1.4"/>
<path d="M400.83,402.86 Q266.0,261.5 262.50,454.5" fill="none" stroke="#111" stroke-width="1.4"/>
<path d="M118.97,393.02 Q258.3,260.5 248.80,454.5" fill="none" stroke="#111" stroke-width="1.4"/>
<path d="M117.99,391.99 Q258.3,260.5 249.30,454.5" fill="none" stroke="#111" stroke-width="1.4"/>
<path d="M78.14,331.32 Q255,254.2 289.00,454.5" fill="none" stroke="#111" stroke-width="1.4"/>
<path d="M62.05,247.39 Q265,255 289.00,454.5" fill="none" stroke="#111" stroke-width="1.4"/>
<path d="M71.61,190.28 Q265,253 252.50,454.5" fill="none" stroke="#111" stroke-width="1.4"/>
<path d="M105.03,127.02 Q265,253 256.00,454.5" fill="none" stroke="#111" stroke-width="1.4"/>
<path d="M137.25,94.24 Q265,252 290.50,454.5" fill="none" stroke="#111" stroke-width="1.4"/>
<path d="M158.33,79.29 Q265,252 256.50,454.5" fill="none" stroke="#111" stroke-width="1.4"/>
<path d="M181.79,66.84 Q265,252 227.50,454.5" fill="none" stroke="#111" stroke-width="1.4"/>
<path d="M191.8,440.2 C217.0,366.6 276.2,394.3 275.0,454.5" fill="none" stroke="#9a9a9a" stroke-width="1.4"/>
<path d="M191.8,440.2 C217.6,363.6 284.2,404.0 281.0,454.5" fill="none" stroke="#9a9a9a" stroke-width="1.4"/>
<path d="M210.1,442.1 Q245.7,356.3 249.2,454.5" fill="none" stroke="#9a9a9a" stroke-width="1.4"/>
<path d="M225,454 V457.8 H270 V454" fill="none" stroke="#000" stroke-width="1.1"/>
<path d="M272.3,454 V457.8 H292.5 V454" fill="none" stroke="#000" stroke-width="1.1"/>
<text x="215" y="469" font-size="10.5" font-style="italic" fill="#2b3278" stroke="#2b3278" stroke-width="0.2">PDCD1LG2</text>
<text x="272" y="469" font-size="10.5" font-style="italic" fill="#a82438" stroke="#a82438" stroke-width="0.2">CD274</text>
<circle cx="281.7" cy="42.6" r="2.40" fill="#000"/>
<circle cx="434.5" cy="126.8" r="2.25" fill="#999"/>
<circle cx="438.8" cy="131.5" r="2.40" fill="#000"/>
<circle cx="443.9" cy="128.6" r="2.25" fill="#999"/>
<circle cx="475.6" cy="253.7" r="2.40" fill="#cc1133"/>
<circle cx="452.3" cy="350.4" r="2.40" fill="#000"/>
<circle cx="405.2" cy="408.7" r="2.40" fill="#000"/>
<circle cx="185.8" cy="448.2" r="2.40" fill="#000"/>
<circle cx="193.4" cy="451.5" r="3.95" fill="#000"/>
<circle cx="205.8" cy="455.8" r="2.40" fill="#000"/>
<circle cx="109.2" cy="396.3" r="2.40" fill="#000"/>
<circle cx="114.0" cy="401.2" r="2.40" fill="#000"/>
<circle cx="69.5" cy="335.0" r="2.40" fill="#999"/>
<circle cx="52.5" cy="247.5" r="2.40" fill="#000"/>
<circle cx="63.75" cy="188.0" r="3.95" fill="#000"/>
<circle cx="98.25" cy="122.5" r="3.95" fill="#000"/>
<circle cx="132.1" cy="87.1" r="2.40" fill="#000"/>
<circle cx="153.7" cy="72.3" r="3.95" fill="#000"/>
<circle cx="178.7" cy="59.6" r="2.40" fill="#cc1133"/>
<text x="273.77" y="51.19" transform="rotate(-87.50 273.77 51.19)" text-anchor="end" dy="0.36em" font-size="10.4" font-style="italic" fill="#2b3278" stroke="#2b3278" stroke-width="0.2">RCC1</text>
<text x="421.06" y="130.95" transform="rotate(-37.80 421.06 130.95)" text-anchor="end" dy="0.36em" font-size="10.4" font-style="italic" fill="#2b3278" stroke="#2b3278" stroke-width="0.2">RPIA</text>
<text x="431.20" y="145.30" transform="rotate(-32.70 431.20 145.30)" text-anchor="end" dy="0.36em" font-size="10.4" font-style="italic" fill="#a82438" stroke="#a82438" stroke-width="0.2">IGK</text>
<text x="465.92" y="246.39" transform="rotate(-1.60 465.92 246.39)" text-anchor="end" dy="0.36em" font-size="10.4" font-style="italic" fill="#2b3278" stroke="#2b3278" stroke-width="0.2">OCLN</text>
<text x="447.70" y="338.17" transform="rotate(25.25 447.70 338.17)" text-anchor="end" dy="0.36em" font-size="10.4" font-style="italic" fill="#a82438" stroke="#a82438" stroke-width="0.2">MCM3</text>
<text x="405.57" y="397.06" transform="rotate(45.90 405.57 397.06)" text-anchor="end" dy="0.36em" font-size="10.4" font-style="italic" fill="#2b3278" stroke="#2b3278" stroke-width="0.2">GET4</text>
<text x="127.33" y="401.19" transform="rotate(312.70 127.33 401.19)" text-anchor="start" dy="0.36em" font-size="10.4" font-style="italic" fill="#2b3278" stroke="#2b3278" stroke-width="0.2">AK309109</text>
<text x="113.24" y="385.32" transform="rotate(318.70 113.24 385.32)" text-anchor="start" dy="0.36em" font-size="10.4" font-style="italic" fill="#2b3278" stroke="#2b3278" stroke-width="0.2">CTSL1P2</text>
<text x="75.61" y="325.08" transform="rotate(338.90 75.61 325.08)" text-anchor="start" dy="0.36em" font-size="10.4" font-style="italic" fill="#a82438" stroke="#a82438" stroke-width="0.2">CD44</text>
<text x="65.46" y="238.40" transform="rotate(363.90 65.46 238.40)" text-anchor="start" dy="0.36em" font-size="10.4" font-style="italic" fill="#a82438" stroke="#a82438" stroke-width="0.2">KIAA0226L</text>
<text x="74.06" y="183.07" transform="rotate(379.85 74.06 183.07)" text-anchor="start" dy="0.36em" font-size="10.4" font-style="italic" fill="#2b3278" stroke="#2b3278" stroke-width="0.2">IL4R</text>
<text x="109.95" y="120.97" transform="rotate(400.20 109.95 120.97)" text-anchor="start" dy="0.36em" font-size="10.4" font-style="italic" fill="#2b3278" stroke="#2b3278" stroke-width="0.2">BZRAP1-AS1</text>
<text x="143.86" y="90.36" transform="rotate(413.15 143.86 90.36)" text-anchor="start" dy="0.36em" font-size="10.4" font-style="italic" fill="#a82438" stroke="#a82438" stroke-width="0.2">PTPN1</text>
<text x="166.27" y="74.62" transform="rotate(420.90 166.27 74.62)" text-anchor="start" dy="0.36em" font-size="10.4" font-style="italic" fill="#2b3278" stroke="#2b3278" stroke-width="0.2">IGLL5</text>
<text x="190.68" y="65.24" transform="rotate(428.30 190.68 65.24)" text-anchor="start" dy="0.36em" font-size="10.4" font-style="italic" fill="#2b3278" stroke="#2b3278" stroke-width="0.2">MID1</text>
<text x="194.0" y="419.2" transform="rotate(-57.5 194.0 419.2)" text-anchor="middle" dy="0.36em" font-size="10" font-style="italic" fill="#2b3278" stroke="#2b3278" stroke-width="0.2">POLR1E</text>
<text x="207.0" y="429.3" transform="rotate(-58.5 207.0 429.3)" text-anchor="middle" dy="0.36em" font-size="10" font-style="italic" fill="#a82438" stroke="#a82438" stroke-width="0.2">GRHPR</text>
<text x="220.3" y="440.8" transform="rotate(-67.5 220.3 440.8)" text-anchor="middle" dy="0.36em" font-size="10" font-style="italic" fill="#a82438" stroke="#a82438" stroke-width="0.2">RIC1</text>
<text x="0" y="0" transform="translate(11.2 25.2) scale(1.0 1.08)" font-size="16.5" font-weight="bold" fill="#000">A</text>
<text x="0" y="0" transform="translate(10.6 548.2) scale(1.0 1.08)" font-size="16.5" font-weight="bold" fill="#000">B</text>
<rect x="42.5" y="568.8" width="455.1" height="111.5" fill="#e3e3e3"/>
<rect x="42.5" y="592" width="21.5" height="50.6" fill="#ededed"/>
<text x="35" y="553.6" font-size="10" fill="#111">CBR1</text>
<path d="M32.5,566 V561.5 H66.5 V566" fill="none" stroke="#000" stroke-width="1.3"/>
<text x="272.8" y="553.4" font-size="10" fill="#111">CBR2</text>
<path d="M254.5,566 V561.8 H318.5 V566" fill="none" stroke="#000" stroke-width="1.3"/>
<line x1="37.7" y1="643.4" x2="502" y2="643.4" stroke="#000" stroke-width="1.5"/>
<line x1="45.8" y1="655.4" x2="119.4" y2="655.4" stroke="#222" stroke-width="0.9"/><rect x="45.3" y="653.4" width="1.1" height="4" fill="#222"/><rect x="65.3" y="651.8" width="1.5" height="7.2" fill="#111"/><path d="M64,655.4 L66,653.6999999999999 L67.2,655.4 L66,657.1 Z" fill="#111"/><rect x="90.8" y="651.8" width="1.5" height="7.2" fill="#111"/><path d="M89.5,655.4 L91.5,653.6999999999999 L92.7,655.4 L91.5,657.1 Z" fill="#111"/><rect x="99.8" y="651.8" width="1.5" height="7.2" fill="#111"/><path d="M98.5,655.4 L100.5,653.6999999999999 L101.7,655.4 L100.5,657.1 Z" fill="#111"/><rect x="104.3" y="651.8" width="1.5" height="7.2" fill="#111"/><path d="M103,655.4 L105,653.6999999999999 L106.2,655.4 L105,657.1 Z" fill="#111"/><path d="M76.7,655.4 L78.6,654.3 L78.6,656.5 Z" fill="#111"/><path d="M107.5,655.4 L110.5,652.8 L119.6,653.0 L119.6,657.8 L110.5,658.0 Z" fill="#111"/>
<line x1="266.3" y1="655.4" x2="489" y2="655.4" stroke="#222" stroke-width="0.9"/><rect x="265.8" y="653.4" width="1.1" height="4" fill="#222"/><rect x="309.5" y="651.8" width="1.5" height="7.2" fill="#111"/><path d="M308.2,655.4 L310.2,653.6999999999999 L311.4,655.4 L310.2,657.1 Z" fill="#111"/><rect x="354.3" y="651.8" width="1.5" height="7.2" fill="#111"/><path d="M353,655.4 L355,653.6999999999999 L356.2,655.4 L355,657.1 Z" fill="#111"/><rect x="407.8" y="651.8" width="1.5" height="7.2" fill="#111"/><path d="M406.5,655.4 L408.5,653.6999999999999 L409.7,655.4 L408.5,657.1 Z" fill="#111"/><rect x="437.90000000000003" y="651.8" width="1.5" height="7.2" fill="#111"/><path d="M436.6,655.4 L438.6,653.6999999999999 L439.8,655.4 L438.6,657.1 Z" fill="#111"/><rect x="457.90000000000003" y="651.8" width="1.5" height="7.2" fill="#111"/><path d="M456.6,655.4 L458.6,653.6999999999999 L459.8,655.4 L458.6,657.1 Z" fill="#111"/><path d="M275.3,655.4 L277.20000000000005,654.3 L277.20000000000005,656.5 Z" fill="#111"/><path d="M286.3,655.4 L288.20000000000005,654.3 L288.20000000000005,656.5 Z" fill="#111"/><path d="M297.3,655.4 L299.20000000000005,654.3 L299.20000000000005,656.5 Z" fill="#111"/><path d="M319.09999999999997,655.4 L321.0,654.3 L321.0,656.5 Z" fill="#111"/><path d="M330.2,655.4 L332.1,654.3 L332.1,656.5 Z" fill="#111"/><path d="M341.2,655.4 L343.1,654.3 L343.1,656.5 Z" fill="#111"/><path d="M364.2,655.4 L366.1,654.3 L366.1,656.5 Z" fill="#111"/><path d="M375.0,655.4 L376.90000000000003,654.3 L376.90000000000003,656.5 Z" fill="#111"/><path d="M385.5,655.4 L387.40000000000003,654.3 L387.40000000000003,656.5 Z" fill="#111"/><path d="M395.7,655.4 L397.6,654.3 L397.6,656.5 Z" fill="#111"/><path d="M421.7,655.4 L423.6,654.3 L423.6,656.5 Z" fill="#111"/><path d="M469.7,655.4 L471.6,654.3 L471.6,656.5 Z" fill="#111"/><path d="M481.5,655.4 L484.5,652.8 L489,653.0 L489,657.8 L484.5,658.0 Z" fill="#111"/>
<text x="66.5" y="675" font-size="10.5" font-style="italic" fill="#a82438" stroke="#a82438" stroke-width="0.2">CD274</text>
<text x="350.8" y="674.5" font-size="10.5" font-style="italic" fill="#2b3278" stroke="#2b3278" stroke-width="0.2">PDCD1LG2</text>
<text x="39.5" y="617.7" transform="rotate(-90 39.5 617.7)" dy="0.36em" font-size="8" font-style="italic" fill="#a82438" stroke="#a82438" stroke-width="0.2">IGK</text>
<path d="M39.5,621 L45.3,640" fill="none" stroke="#767676" stroke-width="1"/>
<path d="M43.4,637.3 L45.3,642.3 L47.199999999999996,637.3 Z" fill="#7a7a7a"/>
<text x="45.6" y="617.7" transform="rotate(-90 45.6 617.7)" dy="0.36em" font-size="8" font-style="italic" fill="#a82438" stroke="#a82438" stroke-width="0.2">PTPN1</text>
<path d="M45.6,621 L46.2,640" fill="none" stroke="#767676" stroke-width="1"/>
<path d="M44.300000000000004,637.3 L46.2,642.3 L48.1,637.3 Z" fill="#7a7a7a"/>
<text x="52.0" y="617.7" transform="rotate(-90 52.0 617.7)" dy="0.36em" font-size="8" font-style="italic" fill="#a82438" stroke="#a82438" stroke-width="0.2">KIAA0226L</text>
<path d="M52.0,621 L49.4,640" fill="none" stroke="#767676" stroke-width="1"/>
<path d="M47.5,637.3 L49.4,642.3 L51.3,637.3 Z" fill="#7a7a7a"/>
<text x="58.8" y="617.7" transform="rotate(-90 58.8 617.7)" dy="0.36em" font-size="8" font-style="italic" fill="#a82438" stroke="#a82438" stroke-width="0.2">CD44</text>
<path d="M58.8,621 L54.4,640" fill="none" stroke="#767676" stroke-width="1"/>
<path d="M52.5,637.3 L54.4,642.3 L56.3,637.3 Z" fill="#7a7a7a"/>
<text x="103.5" y="617.7" transform="rotate(-90 103.5 617.7)" dy="0.36em" font-size="8" font-style="italic" fill="#a82438" stroke="#a82438" stroke-width="0.2">MCM3</text>
<path d="M103.5,621 L103.5,640" fill="none" stroke="#767676" stroke-width="1"/>
<path d="M101.6,637.3 L103.5,642.3 L105.4,637.3 Z" fill="#7a7a7a"/>
<text x="196.2" y="617.7" transform="rotate(-90 196.2 617.7)" dy="0.36em" font-size="8" font-style="italic" fill="#2b3278" stroke="#2b3278" stroke-width="0.2">OCLN</text>
<path d="M196.2,621 L196.2,640" fill="none" stroke="#767676" stroke-width="1"/>
<path d="M194.29999999999998,637.3 L196.2,642.3 L198.1,637.3 Z" fill="#7a7a7a"/>
<text x="235.4" y="617.7" transform="rotate(-90 235.4 617.7)" dy="0.36em" font-size="8" font-style="italic" fill="#2b3278" stroke="#2b3278" stroke-width="0.2">RPIA</text>
<path d="M235.4,621 L235.4,640" fill="none" stroke="#767676" stroke-width="1"/>
<path d="M233.5,637.3 L235.4,642.3 L237.3,637.3 Z" fill="#7a7a7a"/>
<text x="255.8" y="617.7" transform="rotate(-90 255.8 617.7)" dy="0.36em" font-size="8" font-style="italic" fill="#2b3278" stroke="#2b3278" stroke-width="0.2">IGLL5</text>
<path d="M255.8,621 L267.5,640" fill="none" stroke="#767676" stroke-width="1"/>
<path d="M265.6,637.3 L267.5,642.3 L269.4,637.3 Z" fill="#7a7a7a"/>
<text x="262.0" y="617.7" transform="rotate(-90 262.0 617.7)" dy="0.36em" font-size="8" font-style="italic" fill="#2b3278" stroke="#2b3278" stroke-width="0.2">IGK</text>
<path d="M262.0,621 L268.0,640" fill="none" stroke="#767676" stroke-width="1"/>
<path d="M266.1,637.3 L268.0,642.3 L269.9,637.3 Z" fill="#7a7a7a"/>
<text x="268.8" y="617.7" transform="rotate(-90 268.8 617.7)" dy="0.36em" font-size="8" font-style="italic" fill="#2b3278" stroke="#2b3278" stroke-width="0.2">IGLL5</text>
<path d="M268.8,621 L269.0,640" fill="none" stroke="#767676" stroke-width="1"/>
<path d="M267.1,637.3 L269.0,642.3 L270.9,637.3 Z" fill="#7a7a7a"/>
<text x="275.0" y="617.7" transform="rotate(-90 275.0 617.7)" dy="0.36em" font-size="8" font-style="italic" fill="#2b3278" stroke="#2b3278" stroke-width="0.2">IL4R</text>
<path d="M275.0,621 L270.0,640" fill="none" stroke="#767676" stroke-width="1"/>
<path d="M268.1,637.3 L270.0,642.3 L271.9,637.3 Z" fill="#7a7a7a"/>
<text x="279.6" y="617.7" transform="rotate(-90 279.6 617.7)" dy="0.36em" font-size="8" font-style="italic" fill="#2b3278" stroke="#2b3278" stroke-width="0.2">GET4</text>
<path d="M279.6,621 L276.5,640" fill="none" stroke="#767676" stroke-width="1"/>
<path d="M274.6,637.3 L276.5,642.3 L278.4,637.3 Z" fill="#7a7a7a"/>
<text x="286.5" y="617.7" transform="rotate(-90 286.5 617.7)" dy="0.36em" font-size="8" font-style="italic" fill="#2b3278" stroke="#2b3278" stroke-width="0.2">BZRAP1-AS1</text>
<path d="M286.5,621 L290.0,640" fill="none" stroke="#767676" stroke-width="1"/>
<path d="M288.1,637.3 L290.0,642.3 L291.9,637.3 Z" fill="#7a7a7a"/>
<text x="292.7" y="617.7" transform="rotate(-90 292.7 617.7)" dy="0.36em" font-size="8" font-style="italic" fill="#2b3278" stroke="#2b3278" stroke-width="0.2">IL4R</text>
<path d="M292.7,621 L291.0,640" fill="none" stroke="#767676" stroke-width="1"/>
<path d="M289.1,637.3 L291.0,642.3 L292.9,637.3 Z" fill="#7a7a7a"/>
<text x="299.6" y="617.7" transform="rotate(-90 299.6 617.7)" dy="0.36em" font-size="8" font-style="italic" fill="#2b3278" stroke="#2b3278" stroke-width="0.2">AK309109</text>
<path d="M299.6,621 L294.5,640" fill="none" stroke="#767676" stroke-width="1"/>
<path d="M292.6,637.3 L294.5,642.3 L296.4,637.3 Z" fill="#7a7a7a"/>
<text x="305.0" y="617.7" transform="rotate(-90 305.0 617.7)" dy="0.36em" font-size="8" font-style="italic" fill="#2b3278" stroke="#2b3278" stroke-width="0.2">RCC1</text>
<path d="M305.0,621 L295.0,640" fill="none" stroke="#767676" stroke-width="1"/>
<path d="M293.1,637.3 L295.0,642.3 L296.9,637.3 Z" fill="#7a7a7a"/>
<text x="310.4" y="617.7" transform="rotate(-90 310.4 617.7)" dy="0.36em" font-size="8" font-style="italic" fill="#2b3278" stroke="#2b3278" stroke-width="0.2">BZRAP1-AS1</text>
<path d="M310.4,621 L295.5,640" fill="none" stroke="#767676" stroke-width="1"/>
<path d="M293.6,637.3 L295.5,642.3 L297.4,637.3 Z" fill="#7a7a7a"/>
<text x="323.8" y="617.7" transform="rotate(-90 323.8 617.7)" dy="0.36em" font-size="8" font-style="italic" fill="#2b3278" stroke="#2b3278" stroke-width="0.2">CTSL1P2</text>
<path d="M323.8,621 L323.8,640" fill="none" stroke="#767676" stroke-width="1"/>
<path d="M321.90000000000003,637.3 L323.8,642.3 L325.7,637.3 Z" fill="#7a7a7a"/>
<text x="467.0" y="617.7" transform="rotate(-90 467.0 617.7)" dy="0.36em" font-size="8" font-style="italic" fill="#2b3278" stroke="#2b3278" stroke-width="0.2">MID1</text>
<path d="M467.0,621 L467.0,640" fill="none" stroke="#767676" stroke-width="1"/>
<path d="M465.1,637.3 L467.0,642.3 L468.9,637.3 Z" fill="#7a7a7a"/>
<rect x="0" y="0" width="520" height="1" fill="#000"/>
<rect x="0" y="0" width="1" height="691" fill="#000"/>
<rect x="519" y="0" width="1" height="691" fill="#000"/>
<rect x="0" y="689.4" width="520" height="1.6" fill="#000"/>
</svg>
</body></html>
